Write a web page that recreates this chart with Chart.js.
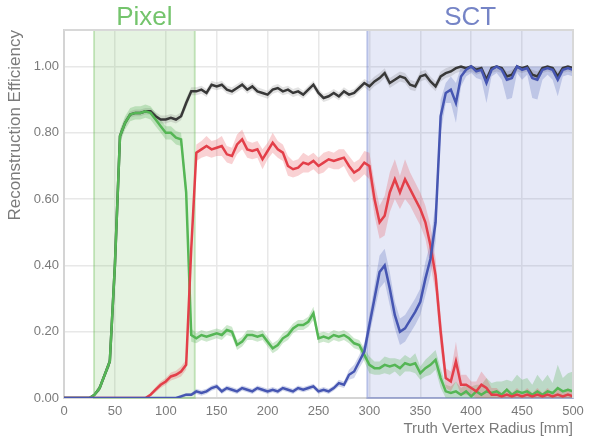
<!DOCTYPE html>
<html>
<head>
<meta charset="utf-8">
<script src="https://cdn.jsdelivr.net/npm/chart.js@4.4.1/dist/chart.umd.min.js"></script>
<style>
  html, body { margin: 0; padding: 0; background: #fff; }
</style>
</head>
<body>
<canvas id="effChart" width="590" height="441"></canvas>
<script>
// radius bins [mm]
const radius = [
  0, 5, 10, 15, 20, 25, 30, 35, 40, 45, 50, 55, 60, 65, 70, 75, 80, 85, 90, 95, 100, 105, 110, 115, 120, 125,
  130, 135, 140, 145, 150, 155, 160, 165, 170, 175, 180, 185, 190, 195, 200, 205, 210, 215, 220, 225,
  230, 235, 240, 245, 250, 255, 260, 265, 270, 275, 280, 285, 290, 295,
  300, 305, 310, 315, 320, 325, 330, 335, 340, 345, 350, 355, 360, 365, 370,
  375, 380, 385, 390, 395, 400, 405, 410, 415, 420, 425, 430, 435, 440, 445, 450, 455, 460, 465, 470,
  475, 480, 485, 490, 495, 500
];

// efficiencies per bin
const total = [
  0, 0, 0, 0, 0, 0, 0.01, 0.03, 0.07, 0.11, 0.40, 0.79, 0.83, 0.855, 0.86, 0.86, 0.865, 0.865, 0.85, 0.84, 0.84, 0.845, 0.84, 0.85, 0.89, 0.925,
  0.925, 0.93, 0.92, 0.945, 0.94, 0.945, 0.93, 0.925, 0.935, 0.945, 0.93, 0.94, 0.925, 0.92, 0.915, 0.93, 0.935, 0.925, 0.93, 0.92,
  0.925, 0.915, 0.93, 0.945, 0.92, 0.905, 0.91, 0.92, 0.91, 0.925, 0.915, 0.92, 0.935, 0.95,
  0.94, 0.955, 0.965, 0.98, 0.95, 0.96, 0.97, 0.965, 0.945, 0.94, 0.97, 0.975, 0.955, 0.94, 0.97,
  0.98, 0.985, 0.995, 1.0, 0.995, 1.0, 0.99, 0.995, 0.96, 0.995, 1.0, 0.995, 0.97, 0.975, 1.0, 0.995, 1.0, 0.975, 0.97, 0.995,
  1.0, 0.995, 0.97, 0.995, 1.0, 0.995
];
const twoTrack = [
  0, 0, 0, 0, 0, 0, 0, 0, 0, 0, 0, 0, 0, 0, 0, 0, 0, 0.01, 0.025, 0.04, 0.05, 0.065, 0.07, 0.08, 0.10, 0.45,
  0.74, 0.75, 0.76, 0.75, 0.755, 0.76, 0.735, 0.73, 0.765, 0.78, 0.75, 0.745, 0.75, 0.72, 0.745, 0.77, 0.75, 0.74, 0.70, 0.69,
  0.695, 0.71, 0.705, 0.715, 0.70, 0.71, 0.72, 0.715, 0.72, 0.725, 0.70, 0.68, 0.69, 0.71,
  0.70, 0.60, 0.53, 0.55, 0.62, 0.66, 0.62, 0.66, 0.63, 0.60, 0.57, 0.53, 0.46, 0.37, 0.20,
  0.06, 0.05, 0.11, 0.04, 0.04, 0.03, 0.02, 0.04, 0.03, 0.01, 0.01, 0.005, 0.01, 0.005, 0.01, 0.005, 0.01, 0.005, 0.01, 0.005,
  0.01, 0.005, 0.01, 0.005, 0.01, 0.005
];
const oneTrack = [
  0, 0, 0, 0, 0, 0, 0.01, 0.03, 0.07, 0.11, 0.40, 0.79, 0.83, 0.855, 0.86, 0.86, 0.865, 0.86, 0.84, 0.82, 0.80, 0.80, 0.785, 0.78, 0.62, 0.19,
  0.18, 0.19, 0.185, 0.19, 0.195, 0.19, 0.205, 0.20, 0.16, 0.17, 0.19, 0.19, 0.185, 0.19, 0.17, 0.15, 0.16, 0.18, 0.19, 0.21,
  0.22, 0.22, 0.23, 0.255, 0.18, 0.185, 0.18, 0.19, 0.185, 0.19, 0.18, 0.165, 0.16, 0.13,
  0.10, 0.09, 0.09, 0.10, 0.095, 0.10, 0.09, 0.105, 0.10, 0.105, 0.075, 0.09, 0.10, 0.115, 0.06,
  0.02, 0.015, 0.02, 0.01, 0.02, 0.005, 0.02, 0.01, 0.02, 0.015, 0.02, 0.01, 0.025, 0.01, 0.02, 0.015, 0.02, 0.01, 0.02, 0.01,
  0.02, 0.015, 0.03, 0.02, 0.025, 0.02
];
const outerOnly = [
  0, 0, 0, 0, 0, 0, 0, 0, 0, 0, 0, 0, 0, 0, 0, 0, 0, 0, 0, 0, 0, 0, 0, 0.005, 0.01, 0.01,
  0.02, 0.015, 0.02, 0.03, 0.035, 0.02, 0.03, 0.025, 0.02, 0.03, 0.025, 0.02, 0.03, 0.025, 0.02, 0.025, 0.02, 0.03, 0.025, 0.02,
  0.03, 0.025, 0.03, 0.035, 0.02, 0.025, 0.02, 0.03, 0.045, 0.04, 0.07, 0.08, 0.11, 0.14,
  0.22, 0.30, 0.38, 0.40, 0.33, 0.25, 0.20, 0.21, 0.235, 0.26, 0.29, 0.36, 0.42, 0.53, 0.85,
  0.92, 0.93, 0.89, 0.97, 0.99, 1.0, 0.985, 0.99, 0.95, 0.99, 1.0, 0.99, 0.96, 0.965, 1.0, 0.99, 0.995, 0.965, 0.96, 0.99,
  0.995, 0.99, 0.96, 0.99, 0.995, 0.99
];

// statistical uncertainties per bin
const totalErr = [
  0, 0, 0, 0, 0, 0, 0.005, 0.01, 0.01, 0.015, 0.02, 0.015, 0.012, 0.01, 0.01, 0.01, 0.01, 0.01, 0.012, 0.012, 0.012, 0.012, 0.012, 0.012, 0.015, 0.012,
  0.012, 0.012, 0.012, 0.012, 0.012, 0.012, 0.012, 0.012, 0.012, 0.012, 0.012, 0.012, 0.012, 0.012, 0.012, 0.012, 0.012, 0.012, 0.012, 0.012,
  0.012, 0.012, 0.012, 0.012, 0.012, 0.012, 0.012, 0.012, 0.012, 0.012, 0.012, 0.012, 0.012, 0.012,
  0.015, 0.015, 0.015, 0.015, 0.015, 0.015, 0.015, 0.015, 0.015, 0.015, 0.015, 0.015, 0.015, 0.015, 0.015,
  0.015, 0.015, 0.015, 0.015, 0.015, 0.015, 0.015, 0.015, 0.015, 0.015, 0.015, 0.015, 0.015, 0.015, 0.015, 0.015, 0.015, 0.015, 0.015, 0.015,
  0.015, 0.015, 0.015, 0.015, 0.015, 0.015
];
const twoTrackErr = [
  0, 0, 0, 0, 0, 0, 0, 0, 0, 0, 0, 0, 0, 0, 0, 0, 0, 0.005, 0.008, 0.01, 0.01, 0.012, 0.012, 0.015, 0.015, 0.03,
  0.025, 0.025, 0.03, 0.025, 0.025, 0.03, 0.025, 0.025, 0.03, 0.03, 0.025, 0.025, 0.025, 0.03, 0.025, 0.03, 0.025, 0.025, 0.03, 0.025,
  0.025, 0.03, 0.025, 0.025, 0.025, 0.03, 0.025, 0.025, 0.03, 0.025, 0.03, 0.03, 0.03, 0.035,
  0.04, 0.05, 0.05, 0.06, 0.06, 0.06, 0.05, 0.06, 0.05, 0.05, 0.05, 0.05, 0.06, 0.05, 0.05,
  0.03, 0.03, 0.06, 0.03, 0.03, 0.02, 0.03, 0.04, 0.03, 0.02, 0.02, 0.01, 0.02, 0.01, 0.02, 0.01, 0.02, 0.01, 0.02, 0.01,
  0.02, 0.01, 0.02, 0.01, 0.02, 0.01
];
const oneTrackErr = [
  0, 0, 0, 0, 0, 0, 0.005, 0.01, 0.01, 0.015, 0.02, 0.02, 0.02, 0.02, 0.02, 0.02, 0.02, 0.02, 0.02, 0.02, 0.02, 0.02, 0.02, 0.02, 0.03, 0.02,
  0.015, 0.015, 0.015, 0.015, 0.015, 0.015, 0.015, 0.015, 0.015, 0.015, 0.015, 0.015, 0.015, 0.015, 0.015, 0.015, 0.015, 0.015, 0.015, 0.015,
  0.015, 0.015, 0.015, 0.02, 0.015, 0.015, 0.015, 0.015, 0.015, 0.015, 0.015, 0.015, 0.015, 0.02,
  0.025, 0.02, 0.02, 0.025, 0.025, 0.02, 0.025, 0.025, 0.02, 0.03, 0.02, 0.025, 0.03, 0.03, 0.03,
  0.02, 0.02, 0.03, 0.02, 0.02, 0.03, 0.02, 0.03, 0.04, 0.03, 0.03, 0.04, 0.03, 0.04, 0.05, 0.04, 0.04, 0.03, 0.05, 0.04,
  0.05, 0.03, 0.07, 0.04, 0.05, 0.06
];
const outerOnlyErr = [
  0, 0, 0, 0, 0, 0, 0, 0, 0, 0, 0, 0, 0, 0, 0, 0, 0, 0, 0, 0, 0, 0, 0, 0.005, 0.005, 0.005,
  0.008, 0.008, 0.008, 0.008, 0.008, 0.008, 0.008, 0.008, 0.008, 0.008, 0.008, 0.008, 0.008, 0.008, 0.008, 0.008, 0.008, 0.008, 0.008, 0.008,
  0.008, 0.008, 0.008, 0.008, 0.008, 0.008, 0.008, 0.008, 0.01, 0.01, 0.015, 0.02, 0.02, 0.025,
  0.03, 0.04, 0.05, 0.05, 0.05, 0.04, 0.04, 0.04, 0.04, 0.04, 0.04, 0.05, 0.05, 0.06, 0.05,
  0.03, 0.04, 0.06, 0.03, 0.02, 0.02, 0.02, 0.03, 0.06, 0.02, 0.02, 0.03, 0.06, 0.06, 0.02, 0.03, 0.02, 0.06, 0.06, 0.03,
  0.02, 0.03, 0.05, 0.02, 0.02, 0.02
];

// detector regions along the radius axis [mm]
const regionNames = ['Pixel', 'SCT'];
const regionStart = [29.5, 298];
const regionEnd = [128.5, 500];

const regionStyle = [
  { fill: 'rgba(110,190,90,0.18)', edge: 'rgba(110,190,90,0.35)', text: '#74c46c' },
  { fill: 'rgba(90,110,200,0.15)', edge: 'rgba(90,110,200,0.38)', text: '#7584c6' }
];

const FONT = '"Liberation Sans", Arial, sans-serif';

function points(values) {
  return radius.map((r, i) => ({ x: r, y: values[i] }));
}

// line + shaded uncertainty band (upper edge, lower edge filled to it)
function series(label, values, errs, color, shade, order) {
  const up = radius.map((r, i) => ({ x: r, y: Math.min(1, values[i] + errs[i]) }));
  const lo = radius.map((r, i) => ({ x: r, y: Math.max(0, values[i] - errs[i]) }));
  return [
    { label: label + ' up', data: up, borderWidth: 0, pointRadius: 0, fill: false, order: order + 10 },
    { label: label + ' lo', data: lo, borderWidth: 0, pointRadius: 0, backgroundColor: shade, fill: '-1', order: order + 10 },
    { label: label, data: points(values), borderColor: color, borderWidth: 2.5, pointRadius: 0, fill: false, order: order }
  ];
}

const regionsPlugin = {
  id: 'regions',
  beforeDatasetsDraw(chart) {
    const { ctx, chartArea: a, scales: { x } } = chart;
    ctx.save();
    regionNames.forEach((name, i) => {
      const x0 = x.getPixelForValue(regionStart[i]);
      const x1 = Math.min(x.getPixelForValue(regionEnd[i]), a.right);
      const st = regionStyle[i];
      ctx.fillStyle = st.fill;
      ctx.fillRect(x0, a.top, x1 - x0, a.bottom - a.top);
      ctx.strokeStyle = st.edge;
      ctx.lineWidth = 2;
      ctx.strokeRect(x0, a.top, x1 - x0, a.bottom - a.top);
      ctx.fillStyle = st.text;
      ctx.font = '26px ' + FONT;
      ctx.textAlign = 'center';
      ctx.textBaseline = 'alphabetic';
      ctx.fillText(name, (x0 + x1) / 2, a.top - 5);
    });
    ctx.restore();
  },
  afterDraw(chart) {
    const { ctx, chartArea: a } = chart;
    ctx.save();
    ctx.strokeStyle = '#d8d8d8';
    ctx.lineWidth = 2;
    ctx.beginPath();
    ctx.moveTo(a.left, a.top);
    ctx.lineTo(a.right, a.top);
    ctx.lineTo(a.right, a.bottom);
    ctx.stroke();
    ctx.restore();
  }
};

new Chart(document.getElementById('effChart'), {
  type: 'line',
  data: {
    datasets: [
      ...series('Outer only', outerOnly, outerOnlyErr, '#4656b2', 'rgba(70,90,180,0.25)', 1),
      ...series('Two tracks', twoTrack, twoTrackErr, '#e33f49', 'rgba(230,70,80,0.25)', 2),
      ...series('One track', oneTrack, oneTrackErr, '#55b655', 'rgba(90,180,90,0.3)', 3),
      ...series('Total', total, totalErr, '#383838', 'rgba(60,60,60,0.15)', 4)
    ]
  },
  options: {
    responsive: false,
    animation: false,
    layout: { padding: { top: 30, right: 17, left: 0, bottom: 0 } },
    elements: { line: { tension: 0 } },
    plugins: { legend: { display: false }, tooltip: { enabled: false } },
    scales: {
      x: {
        type: 'linear',
        min: 0,
        max: 500,
        afterFit(scale) { scale.height = 43; },
        ticks: { stepSize: 50, color: '#7a7a7a', font: { family: FONT, size: 13 }, padding: 6, maxRotation: 0 },
        grid: { color: '#e8e8e8', lineWidth: 1.5, drawTicks: false },
        border: { color: '#d4d4d4', width: 2 },
        title: {
          display: true,
          text: 'Truth Vertex Radius [mm]',
          align: 'end',
          color: '#7a7a7a',
          font: { family: FONT, size: 15 },
          padding: { top: 4, bottom: 3 }
        }
      },
      y: {
        min: 0,
        max: 1.11,
        afterFit(scale) { scale.width = 64; },
        ticks: {
          stepSize: 0.2,
          includeBounds: false,
          color: '#7a7a7a',
          font: { family: FONT, size: 13 },
          padding: 5,
          callback: v => v.toFixed(2)
        },
        grid: { color: '#e8e8e8', lineWidth: 1.5, drawTicks: false },
        border: { color: '#d4d4d4', width: 2 },
        title: {
          display: true,
          text: 'Reconstruction Efficiency',
          align: 'end',
          color: '#7a7a7a',
          font: { family: FONT, size: 17 },
          padding: { top: 5, bottom: 4 }
        }
      }
    }
  },
  plugins: [regionsPlugin]
});
</script>
</body>
</html>
